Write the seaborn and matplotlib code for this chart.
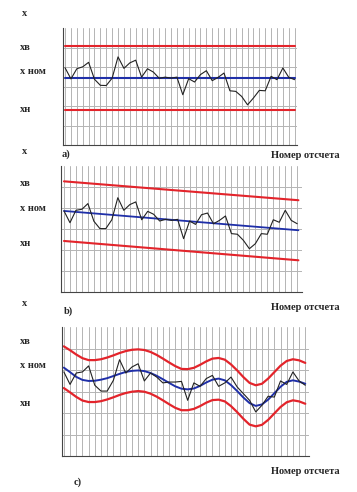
import numpy as np
import pandas as pd
import seaborn as sns
from matplotlib import pyplot as plt

# === DATA ===

idx = list(range(40))

# panel a) - measured values, constant limits
meas_a = [3.96, 3.39, 3.91, 4.01, 4.24, 3.37, 3.06, 3.05, 3.43, 4.52,
          3.93, 4.21, 4.35, 3.48, 3.91, 3.74, 3.42, 3.48, 3.43, 3.48,
          2.58, 3.40, 3.23, 3.61, 3.81, 3.30, 3.47, 3.69, 2.78, 2.75,
          2.49, 2.06, 2.41, 2.80, 2.78, 3.52, 3.35, 3.95, 3.47, 3.35]
ends_a = [0, 39]
upper_a = [5.10, 5.10]
nom_a = [3.43, 3.43]
lower_a = [1.80, 1.80]

# panel b) - linear drift
meas_b = [3.86, 3.30, 3.89, 3.94, 4.21, 3.37, 3.02, 3.02, 3.44, 4.49,
          3.89, 4.16, 4.29, 3.44, 3.84, 3.70, 3.38, 3.46, 3.41, 3.46,
          2.54, 3.38, 3.22, 3.68, 3.76, 3.25, 3.41, 3.62, 2.78, 2.75,
          2.46, 2.06, 2.30, 2.78, 2.75, 3.44, 3.32, 3.89, 3.41, 3.25]
ends_b = [0, 39.2]
upper_b = [5.27, 4.37]
nom_b = [3.86, 2.94]
lower_b = [2.43, 1.51]

# panel c) - periodic drift
meas_c = [3.91, 3.33, 3.86, 3.91, 4.19, 3.29, 3.02, 3.02, 3.52, 4.48,
          3.86, 4.14, 4.29, 3.49, 3.86, 3.67, 3.40, 3.44, 3.44, 3.47,
          2.59, 3.40, 3.24, 3.60, 3.75, 3.24, 3.40, 3.67, 3.21, 2.90,
          2.59, 2.05, 2.36, 2.78, 2.74, 3.49, 3.33, 3.91, 3.49, 3.29]
nom_c = [4.11, 3.90, 3.68, 3.54, 3.49, 3.50, 3.55, 3.62, 3.72, 3.82,
         3.91, 3.96, 3.98, 3.95, 3.86, 3.73, 3.57, 3.40, 3.24, 3.13,
         3.10, 3.14, 3.26, 3.42, 3.55, 3.60, 3.52, 3.30, 3.02, 2.72,
         2.46, 2.33, 2.40, 2.62, 2.92, 3.22, 3.45, 3.52, 3.46, 3.36]
upper_c = [5.10, 4.92, 4.72, 4.55, 4.46, 4.46, 4.50, 4.58, 4.68, 4.79,
           4.88, 4.94, 4.96, 4.93, 4.84, 4.70, 4.53, 4.35, 4.18, 4.05,
           4.04, 4.10, 4.24, 4.40, 4.53, 4.56, 4.48, 4.26, 3.98, 3.67,
           3.40, 3.29, 3.36, 3.60, 3.90, 4.20, 4.42, 4.50, 4.45, 4.33]
lower_c = [3.16, 2.96, 2.75, 2.58, 2.51, 2.51, 2.55, 2.63, 2.73, 2.84,
           2.93, 2.99, 3.02, 2.99, 2.90, 2.76, 2.59, 2.41, 2.24, 2.13,
           2.13, 2.19, 2.32, 2.48, 2.60, 2.62, 2.54, 2.32, 2.04, 1.73,
           1.46, 1.38, 1.45, 1.68, 1.98, 2.28, 2.50, 2.59, 2.54, 2.43]

x_label = 'Номер отсчета'
RED = '#e3242b'
BLUE = '#1f2fa8'
W, H = 357, 492


# === FUNC ===

def px(x, y):
    return x / W, 1 - y / H


def setup_axes(fig, left, top, right, bottom, xlim):
    ax = fig.add_axes([left / W, 1 - bottom / H, (right - left) / W, (bottom - top) / H])
    ax.set_xlim(*xlim)
    ax.set_ylim(0, 6)
    ax.set_xticks(idx)
    ax.set_yticks(range(6))
    ax.grid(True, color='#b4b4b4', linewidth=0.7)
    ax.tick_params(axis='x', length=2, width=0.6, labelbottom=False, color='#555555')
    ax.tick_params(axis='y', length=3, width=0.6, labelleft=False, color='#555555')
    for side in ('top', 'right'):
        ax.spines[side].set_visible(False)
    for side in ('left', 'bottom'):
        ax.spines[side].set_color('#444444')
        ax.spines[side].set_linewidth(0.8)
    ax.set_facecolor('white')
    return ax


def draw(ax, xs, vals, color, lw):
    sns.lineplot(x=xs, y=vals, ax=ax, color=color, linewidth=lw, sort=False)


def labels(fig, y_x, y_top, y_nom, y_low, y_name, name, name_x, y_cap):
    font = dict(family='Liberation Serif', fontweight='bold', fontsize=7.5, va='center')
    fig.text(*px(22, y_x), 'x', ha='left', **font)
    fig.text(*px(20, y_top), 'хв', ha='left', **font)
    fig.text(*px(20, y_nom), 'х ном', ha='left', **font)
    fig.text(*px(20, y_low), 'хн', ha='left', **font)
    fig.text(*px(name_x, y_name), name, ha='left', **font)
    fig.text(*px(340, y_cap), x_label, ha='right', **font)


# === CODE ===

sns.set_style('white')
fig = plt.figure(figsize=(W / 100, H / 100), dpi=100)

ax_a = setup_axes(fig, 63, 28, 297, 145, (-0.35, 39.4))
draw(ax_a, ends_a, upper_a, RED, 1.5)
draw(ax_a, ends_a, lower_a, RED, 1.5)
draw(ax_a, ends_a, nom_a, BLUE, 1.5)
draw(ax_a, idx, meas_a, '#222222', 0.8)

ax_b = setup_axes(fig, 61, 166, 302, 292, (-0.5, 39.8))
draw(ax_b, ends_b, upper_b, RED, 1.5)
draw(ax_b, ends_b, lower_b, RED, 1.5)
draw(ax_b, ends_b, nom_b, BLUE, 1.3)
draw(ax_b, idx, meas_b, '#222222', 0.8)

ax_c = setup_axes(fig, 62, 327, 309, 456, (-0.3, 39.6))
draw(ax_c, idx, upper_c, RED, 1.6)
draw(ax_c, idx, lower_c, RED, 1.6)
draw(ax_c, idx, nom_c, BLUE, 1.4)
draw(ax_c, idx, meas_c, '#222222', 0.8)

labels(fig, 14, 48, 72, 109, 154, 'a)', 62, 155)
labels(fig, 151, 184, 208, 244, 311, 'b)', 64, 308)
labels(fig, 304, 341, 366, 403, 482, 'c)', 74, 472)

fig.savefig('out.png', dpi=100)
